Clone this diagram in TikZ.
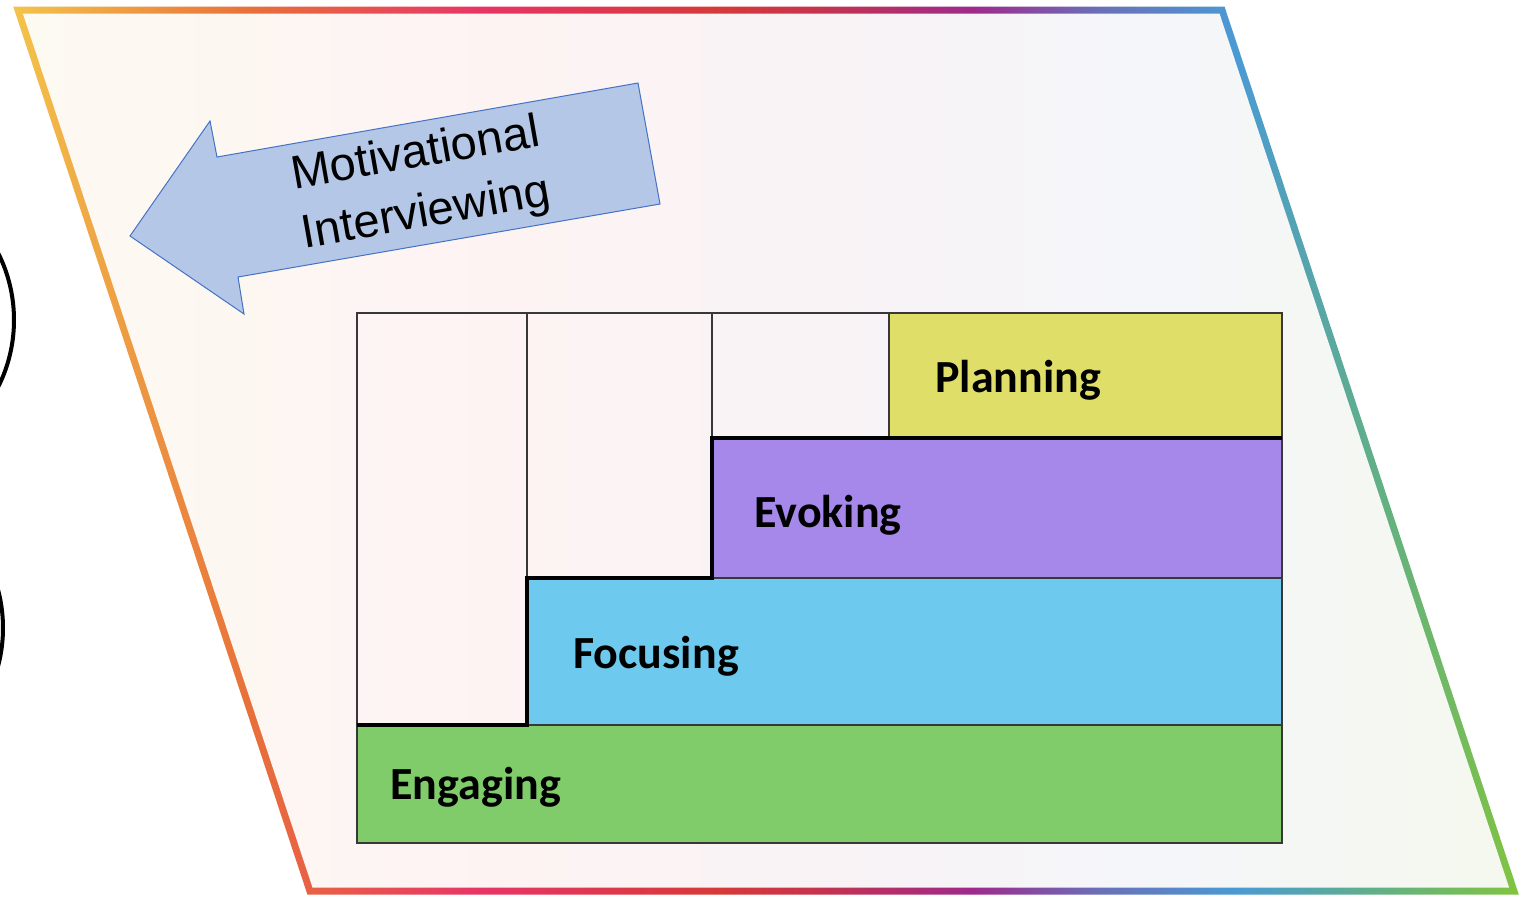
\documentclass[tikz,border=0pt]{standalone}
\usepackage{fontspec}
\newfontfamily\arrowfont{Liberation Sans}
\newfontfamily\stagefont{Carlito}
\usepackage{tikz}

% rim colours, left to right
\definecolor{rimA}{HTML}{F3C24A}
\definecolor{rimB}{HTML}{E8703A}
\definecolor{rimC}{HTML}{E73566}
\definecolor{rimD}{HTML}{D63A38}
\definecolor{rimE}{HTML}{C5334E}
\definecolor{rimF}{HTML}{9E2A8C}
\definecolor{rimG}{HTML}{6A70B8}
\definecolor{rimH}{HTML}{4A9AD4}
\definecolor{rimI}{HTML}{62B084}
\definecolor{rimJ}{HTML}{80C342}
% pale sheet
\definecolor{paperA}{HTML}{FDFAF2}
\definecolor{paperB}{HTML}{FDF3F3}
\definecolor{paperC}{HTML}{F8F3F6}
\definecolor{paperD}{HTML}{F5F6FA}
\definecolor{paperE}{HTML}{F5F8EE}
% arrow and stages
\definecolor{miFill}{HTML}{B4C7E7}
\definecolor{miEdge}{HTML}{4472C4}
\definecolor{miGrid}{HTML}{383838}
\definecolor{engageFill}{HTML}{80CB6A}
\definecolor{focusFill}{HTML}{6EC9EE}
\definecolor{evokeFill}{HTML}{A588EA}
\definecolor{planFill}{HTML}{DFDE68}

\pgfdeclarehorizontalshading{rimshade}{100bp}{color(0bp)=(rimA); color(25.16bp)=(rimA);
  color(32.86bp)=(rimB); color(40.5bp)=(rimC); color(48.34bp)=(rimD); color(51.79bp)=(rimE);
  color(56.87bp)=(rimF); color(61.09bp)=(rimG); color(65.64bp)=(rimH); color(70.39bp)=(rimI);
  color(74.84bp)=(rimJ); color(100bp)=(rimJ)}
\pgfdeclarehorizontalshading{papershade}{100bp}{color(0bp)=(paperA); color(25bp)=(paperA);
  color(41.05bp)=(paperB); color(54.5bp)=(paperC); color(62.9bp)=(paperD);
  color(75bp)=(paperE); color(100bp)=(paperE)}

\begin{document}
\begin{tikzpicture}[x=0.5pt, y=-0.5pt,
    stagelabel/.style={font=\stagefont\bfseries\fontsize{23}{28}\selectfont, text=black, inner sep=0pt, anchor=base west},
    cell/.style={draw=miGrid, line width=0.6pt}]
  \clip (0,0) rectangle (1522,896);

  % rainbow rim, pale sheet laid over it
  \shade[shading=rimshade] (13.2,6.5) -- (1224.5,6.5) -- (1518.8,894.5) -- (307.4,894.5) -- cycle;
  \shade[shading=papershade] (22.85,13.5) -- (1219.5,13.5) -- (1509.1,887.5) -- (312.5,887.5) -- cycle;

  % circles running off the left edge
  \draw[line width=2pt] (-135,320) circle[radius=149];
  \draw[line width=2pt] (-146,628) circle[radius=149];

  % block arrow
  \filldraw[fill=miFill, draw=miEdge, line width=0.5pt]
    (130,236) -- (210,121) -- (217,157) -- (638,83) -- (660,204) -- (238,277) -- (244,314) -- cycle;
  \node[font=\arrowfont\fontsize{23.5}{30}\selectfont, align=center, rotate=10, inner sep=0pt]
    (mi) at (421,185) {Motivational\\Interviewing};

  % stage blocks
  \fill[engageFill] (357,725) rectangle (1282,843);
  \fill[focusFill] (527,578) rectangle (1282,725);
  \fill[evokeFill] (712,438) rectangle (1282,578);
  \fill[planFill] (889,313) rectangle (1282,438);

  % grid
  \draw[cell] (357,313) rectangle (1282,843);
  \draw[cell] (527,313) -- (527,725) (712,313) -- (712,578) (889,313) -- (889,438);
  \draw[cell] (357,725) -- (1282,725) (527,578) -- (1282,578) (712,438) -- (1282,438);

  % staircase
  \draw[line width=1.8pt] (357,725) -- (527,725) -- (527,578) -- (712,578) -- (712,438) -- (1282,438);

  \node[stagelabel] (engaging) at (390,799) {Engaging};
  \node[stagelabel] (focusing) at (573,668) {Focusing};
  \node[stagelabel] (evoking) at (754,527) {Evoking};
  \node[stagelabel] (planning) at (935,392) {Planning};
\end{tikzpicture}
\end{document}
